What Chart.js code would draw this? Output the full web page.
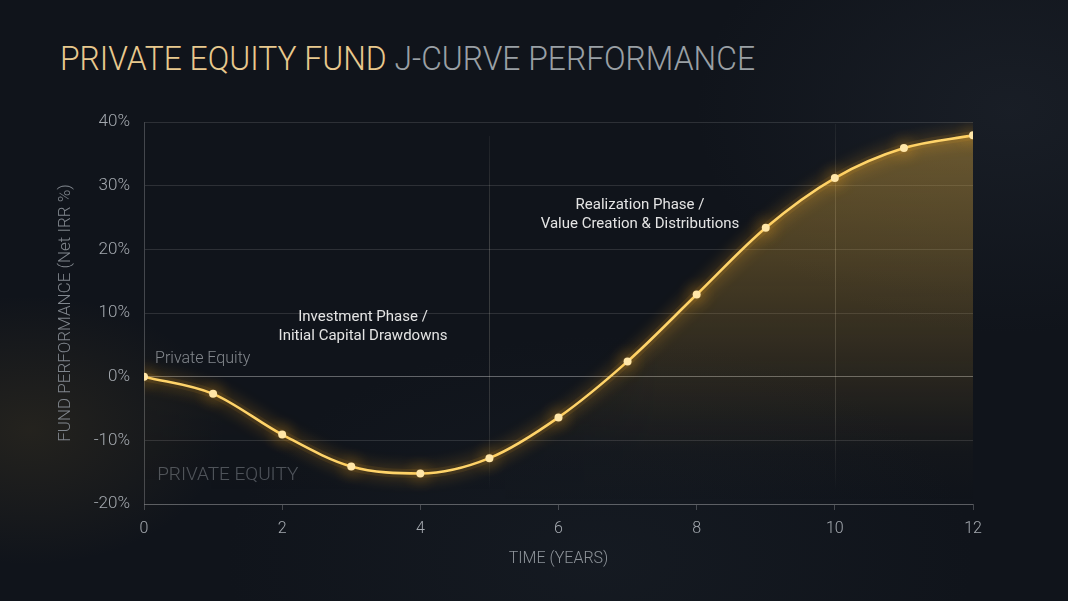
<!DOCTYPE html>
<html>
<head>
<meta charset="utf-8">
<script src="https://cdn.jsdelivr.net/npm/chart.js@4.4.1/dist/chart.umd.min.js"></script>
<style>
  html, body { margin: 0; padding: 0; width: 1068px; height: 601px; overflow: hidden; background: #10141b; }
  #wrap {
    position: relative; width: 1068px; height: 601px;
    background:
      radial-gradient(ellipse 260px 180px at 30px 430px, rgba(140, 110, 45, 0.16), transparent 75%),
      radial-gradient(ellipse 420px 300px at 1010px 110px, rgba(70, 80, 95, 0.16), transparent 75%),
      radial-gradient(ellipse 500px 300px at 600px 560px, rgba(40, 50, 60, 0.2), transparent 75%),
      #10141b;
  }
  #title {
    position: absolute; left: 60px; top: 38px;
    font-family: Roboto, "Noto Sans", sans-serif; font-weight: 300; font-size: 34px;
    white-space: nowrap; transform-origin: 0 0; letter-spacing: 0;
  }
  #title .gold { color: #e8c98e; }
  #title .grey { color: #9aa0a5; }
  canvas { position: absolute; left: 0; top: 0; }
</style>
</head>
<body>
<div id="wrap">
  <div id="title"><span class="gold">PRIVATE EQUITY FUND</span> <span class="grey">J-CURVE PERFORMANCE</span></div>
  <canvas id="jcurve" width="1068" height="601"></canvas>
</div>
<script>
// values
const years = [0, 1, 2, 3, 4, 5, 6, 7, 8, 9, 10, 11, 12];
const netIrr = [0, -2.7, -9.1, -14.1, -15.2, -12.8, -6.4, 2.4, 12.9, 23.4, 31.2, 35.9, 37.9];
const yTicks = [-20, -10, 0, 10, 20, 30, 40];
const xTicks = [0, 2, 4, 6, 8, 10, 12];
const phaseBreaks = [5, 10];
const investmentNote = ['Investment Phase /', 'Initial Capital Drawdowns'];
const realizationNote = ['Realization Phase /', 'Value Creation & Distributions'];
const seriesName = 'Private Equity';

const points = years.map((x, i) => ({ x: x, y: netIrr[i] }));

// fit title width to reference
const titleEl = document.getElementById('title');
function fitTitle() {
  titleEl.style.transform = 'none';
  const w = titleEl.getBoundingClientRect().width;
  titleEl.style.transform = 'scaleX(' + (695 / w) + ')';
}
fitTitle();
if (document.fonts) document.fonts.ready.then(fitTitle);

// gold fill: fades downward and towards the left
let fillCache = null;
function areaFill(context) {
  const chart = context.chart;
  const { ctx, chartArea, scales } = chart;
  if (!chartArea) return 'rgba(0,0,0,0)';
  const key = chartArea.left + ',' + chartArea.top + ',' + chartArea.right + ',' + chartArea.bottom;
  if (fillCache && fillCache.key === key) return fillCache.pattern;
  const off = document.createElement('canvas');
  off.width = chart.width;
  off.height = chart.height;
  const o = off.getContext('2d');
  const y = scales.y, x = scales.x;
  const vg = o.createLinearGradient(0, chartArea.top, 0, chartArea.bottom);
  const span = chartArea.bottom - chartArea.top;
  const at = (v) => (y.getPixelForValue(v) - chartArea.top) / span;
  vg.addColorStop(0, 'rgba(222, 172, 66, 0.44)');
  vg.addColorStop(at(20), 'rgba(215, 165, 60, 0.30)');
  vg.addColorStop(at(0), 'rgba(205, 155, 55, 0.13)');
  vg.addColorStop(at(-12), 'rgba(200, 150, 50, 0.02)');
  vg.addColorStop(1, 'rgba(200, 150, 50, 0)');
  o.fillStyle = vg;
  o.fillRect(chartArea.left, chartArea.top, chartArea.right - chartArea.left, span);
  o.globalCompositeOperation = 'destination-in';
  const hg = o.createLinearGradient(chartArea.left, 0, chartArea.right, 0);
  const ax = (v) => (x.getPixelForValue(v) - chartArea.left) / (chartArea.right - chartArea.left);
  hg.addColorStop(0, 'rgba(0,0,0,0.2)');
  hg.addColorStop(ax(5), 'rgba(0,0,0,0.45)');
  hg.addColorStop(ax(7.5), 'rgba(0,0,0,1)');
  hg.addColorStop(1, 'rgba(0,0,0,1)');
  o.fillStyle = hg;
  o.fillRect(0, 0, off.width, off.height);
  fillCache = { key: key, pattern: ctx.createPattern(off, 'no-repeat') };
  return fillCache.pattern;
}

const glowPlugin = {
  id: 'glow',
  beforeDatasetDraw(chart, args) {
    if (args.index === 0) {
      const ctx = chart.ctx;
      ctx.save();
      ctx.shadowColor = 'rgba(255, 170, 30, 1)';
      ctx.shadowBlur = 16;
    }
  },
  afterDatasetDraw(chart, args) {
    if (args.index === 0) chart.ctx.restore();
  }
};

const decorPlugin = {
  id: 'decor',
  beforeDatasetsDraw(chart) {
    const { ctx, chartArea, scales } = chart;
    ctx.save();
    phaseBreaks.forEach((yr, i) => {
      const px = Math.round(scales.x.getPixelForValue(yr)) + 0.5;
      const top = chartArea.top + (i === 0 ? 14 : 2);
      const bot = chartArea.bottom - 14;
      const g = ctx.createLinearGradient(0, top, 0, bot);
      g.addColorStop(0, 'rgba(220, 215, 200, 0.06)');
      g.addColorStop(0.3, 'rgba(220, 215, 200, 0.22)');
      g.addColorStop(0.8, 'rgba(220, 215, 200, 0.16)');
      g.addColorStop(1, 'rgba(220, 215, 200, 0.0)');
      ctx.strokeStyle = g;
      ctx.lineWidth = 1;
      ctx.beginPath();
      ctx.moveTo(px, top);
      ctx.lineTo(px, bot);
      ctx.stroke();
    });
    ctx.restore();
  },
  afterDraw(chart) {
    const { ctx, scales } = chart;
    const x = scales.x, y = scales.y;
    ctx.save();
    ctx.textBaseline = 'middle';

    ctx.textAlign = 'center';
    ctx.fillStyle = '#e4e4e4';
    ctx.font = '400 15px Roboto, "Noto Sans", sans-serif';
    let cx = x.getPixelForValue(3.17), cy = y.getPixelForValue(9.4);
    investmentNote.forEach((t, i) => ctx.fillText(t, cx, cy + i * 19));
    cx = x.getPixelForValue(7.18); cy = y.getPixelForValue(26.9);
    realizationNote.forEach((t, i) => ctx.fillText(t, cx, cy + i * 19));

    ctx.textAlign = 'left';
    ctx.fillStyle = 'rgba(200, 205, 210, 0.62)';
    ctx.font = '300 16px Roboto, "Noto Sans", sans-serif';
    ctx.fillText(seriesName, x.getPixelForValue(0.16), y.getPixelForValue(2.7));

    ctx.fillStyle = 'rgba(200, 205, 210, 0.34)';
    ctx.font = '300 19px Roboto, "Noto Sans", sans-serif';
    ctx.fillText(seriesName.toUpperCase(), x.getPixelForValue(0.19), y.getPixelForValue(-15.5));
    ctx.restore();
  }
};

const chart = new Chart(document.getElementById('jcurve').getContext('2d'), {
  type: 'line',
  data: {
    datasets: [{
      label: seriesName,
      data: points,
      order: 0,
      borderColor: '#ffd46a',
      borderWidth: 2.6,
      cubicInterpolationMode: 'monotone',
      pointRadius: 4,
      pointBackgroundColor: '#ffe6a8',
      pointBorderWidth: 0,
      pointHoverRadius: 4,
      fill: false
    }, {
      label: seriesName + ' area',
      data: points,
      order: 1,
      borderColor: 'rgba(255, 175, 45, 0.09)',
      borderWidth: 9,
      cubicInterpolationMode: 'monotone',
      pointRadius: 0,
      fill: 'start',
      backgroundColor: areaFill
    }]
  },
  options: {
    responsive: false,
    animation: false,
    layout: { padding: { left: 0, right: 95, top: 122, bottom: 0 } },
    plugins: { legend: { display: false }, tooltip: { enabled: false } },
    scales: {
      x: {
        type: 'linear',
        min: 0,
        max: 12,
        afterBuildTicks: (s) => { s.ticks = xTicks.map(v => ({ value: v })); },
        afterFit: (s) => { s.height = 97; },
        grid: {
          drawOnChartArea: false,
          drawTicks: true,
          tickLength: 6,
          color: 'rgba(255, 255, 255, 0.22)'
        },
        border: { display: true, color: 'rgba(255, 255, 255, 0.22)' },
        ticks: {
          padding: 9,
          color: '#a4a9af',
          font: { family: 'Roboto', weight: '300', size: 16 }
        },
        title: {
          display: true,
          text: 'TIME (YEARS)',
          color: '#8e949a',
          font: { family: 'Roboto', weight: '300', size: 16 },
          padding: { top: 0, bottom: 32 }
        }
      },
      y: {
        min: -20,
        max: 40,
        afterBuildTicks: (s) => { s.ticks = yTicks.map(v => ({ value: v })); },
        afterFit: (s) => { s.width = 144; },
        grid: {
          drawTicks: false,
          color: (c) => c.tick && c.tick.value === 0 ? 'rgba(255, 255, 255, 0.34)' : 'rgba(255, 255, 255, 0.12)'
        },
        border: { display: true, color: 'rgba(255, 255, 255, 0.22)' },
        ticks: {
          padding: 14,
          color: '#a4a9af',
          font: { family: 'Roboto', weight: '300', size: 17 },
          callback: (v) => v + '%'
        },
        title: {
          display: true,
          text: 'FUND PERFORMANCE (Net IRR %)',
          color: '#80868d',
          font: { family: 'Roboto', weight: '300', size: 17 },
          padding: { top: 56, bottom: 0 }
        }
      }
    }
  },
  plugins: [glowPlugin, decorPlugin]
});

if (document.fonts) document.fonts.ready.then(() => { fillCache = null; chart.update(); });
</script>
</body>
</html>
